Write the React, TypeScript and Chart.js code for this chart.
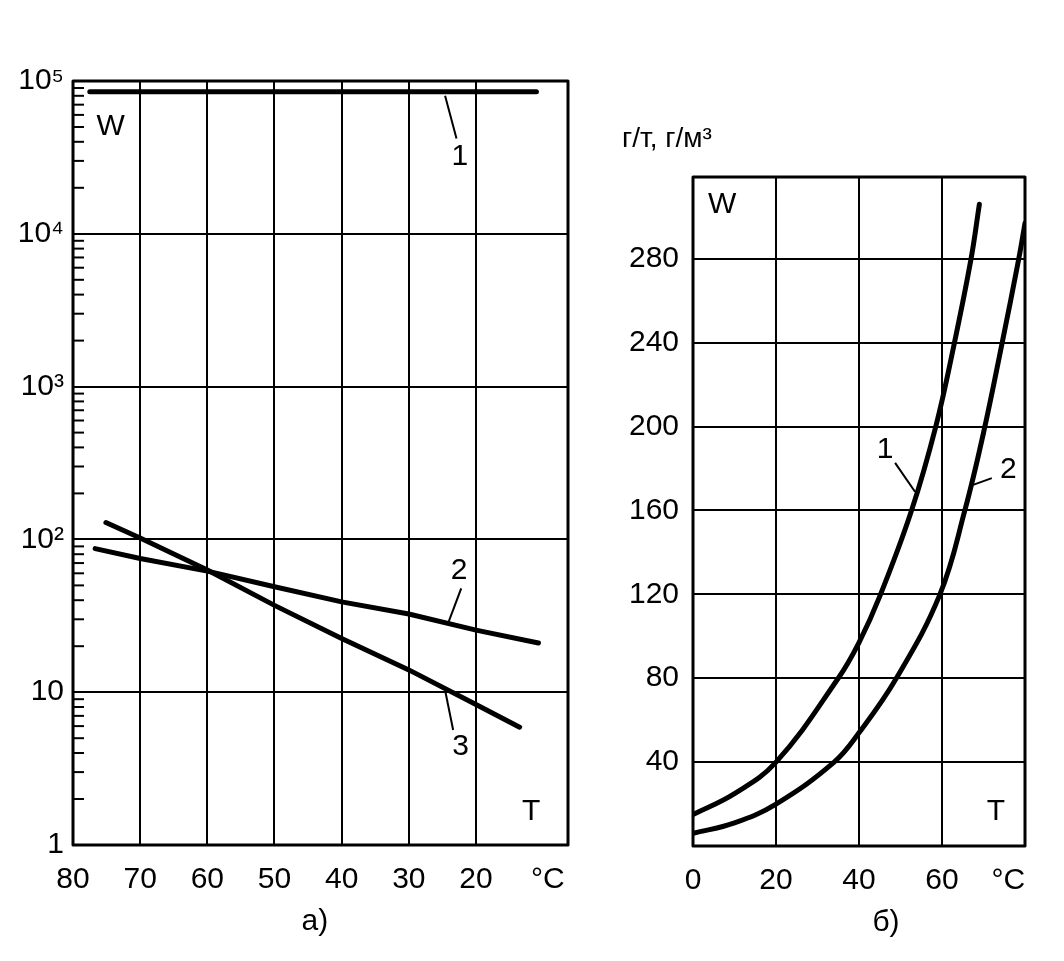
import React, { useEffect, useRef } from 'react';
import { Chart, registerables } from 'chart.js';

Chart.register(...registerables);

const FONT = '"Liberation Sans", Arial, Helvetica, sans-serif';
const INK = '#000000';

// ---------- Panel а) : logarithmic W versus temperature ----------
const aXTicks = [80, 70, 60, 50, 40, 30, 20];
const aUnitTick = 9.3; // position of the "°C" caption on the T axis
const aXMin = 6.3;
const aXMax = 80;
const aYTicks = [1, 10, 100, 1000, 10000, 100000];
const aYLabels = ['1', '10', '10²', '10³', '10⁴', '10⁵'];
const aMinorMultipliers = [2, 3, 4, 5, 6, 7, 8, 9];
const aCurve1T = [77.5, 11];
const aCurve1W = [85000, 85000];
const aCurve2T = [76.7, 70, 60, 50, 40, 30, 20, 10.7];
const aCurve2W = [87, 75, 62, 49, 39, 32.5, 25.5, 21];
const aCurve3T = [75.1, 70, 60, 50, 40, 30, 20, 13.5];
const aCurve3W = [129, 102, 63, 37, 22.5, 14, 8.3, 5.9];

// ---------- Panel б) : W in g/t, g/m³ versus temperature ----------
const bXTicks = [0, 20, 40, 60];
const bUnitTick = 76;
const bXMin = 0;
const bXMax = 80;
const bYTicks = [0, 40, 80, 120, 160, 200, 240, 280];
const bYMax = 319;
const bCurve1T = [0, 10, 20, 35, 40, 45, 52.5, 58.5, 63, 67, 69];
const bCurve1W = [15, 25, 40, 80, 97, 119, 159, 200, 240, 280, 306];
const bCurve2T = [0, 10, 20, 34, 40, 49, 59.5, 65.5, 70, 74.5, 78.5, 80];
const bCurve2W = [6, 11, 20, 40, 54, 80, 120, 160, 197, 240, 280, 297];

type Note =
  | { kind: 'text'; x: number; y: number; text: string; size?: number }
  | { kind: 'line'; x1: number; y1: number; x2: number; y2: number };

// annotations in data coordinates
const aNotes: Note[] = [
  { kind: 'text', x: 74.4, y: 50200, text: 'W' },
  { kind: 'text', x: 11.8, y: 1.66, text: 'T' },
  { kind: 'line', x1: 24.6, y1: 80000, x2: 22.9, y2: 42000 },
  { kind: 'text', x: 22.4, y: 31800, text: '1' },
  { kind: 'line', x1: 22.2, y1: 47.8, x2: 24.2, y2: 27.9 },
  { kind: 'text', x: 22.5, y: 62, text: '2' },
  { kind: 'line', x1: 24.6, y1: 10.3, x2: 23.4, y2: 5.66 },
  { kind: 'text', x: 22.3, y: 4.41, text: '3' },
];
const aCaption = { x: 44, text: 'а)' };

const bNotes: Note[] = [
  { kind: 'text', x: 7, y: 305.8, text: 'W' },
  { kind: 'text', x: 73, y: 16.5, text: 'T' },
  { kind: 'line', x1: 48.7, y1: 182.7, x2: 53.5, y2: 168.9 },
  { kind: 'text', x: 46.3, y: 189, text: '1' },
  { kind: 'line', x1: 72, y1: 175.4, x2: 67.5, y2: 172.2 },
  { kind: 'text', x: 76, y: 179.4, text: '2' },
];
const bCaption = { x: 46.5, text: 'б)' };
const bUnitsTitle = 'г/т, г/м³';

function pts(xs: number[], ys: number[]) {
  return xs.map((x, i) => ({ x, y: ys[i] }));
}

function decorPlugin(
  notes: Note[],
  caption: { x: number; text: string },
  minorDecades: number[] | null,
  unitsTitle: string | null
) {
  return {
    id: 'decor',
    afterDraw(chart: any) {
      const { ctx, chartArea: a, scales } = chart;
      const xs = scales.x;
      const ys = scales.y;
      ctx.save();
      ctx.strokeStyle = INK;
      ctx.fillStyle = INK;
      // frame
      ctx.lineWidth = 3;
      ctx.lineJoin = 'round';
      ctx.strokeRect(a.left, a.top, a.right - a.left, a.bottom - a.top);
      // minor log ticks on the inside of the value axis
      if (minorDecades) {
        ctx.lineWidth = 2;
        minorDecades.forEach((d) => {
          aMinorMultipliers.forEach((m) => {
            const y = ys.getPixelForValue(d * m);
            ctx.beginPath();
            ctx.moveTo(a.left, y);
            ctx.lineTo(a.left + 11, y);
            ctx.stroke();
          });
        });
      }
      // notes
      ctx.textAlign = 'center';
      ctx.textBaseline = 'middle';
      notes.forEach((n) => {
        if (n.kind === 'line') {
          ctx.lineWidth = 2;
          ctx.beginPath();
          ctx.moveTo(xs.getPixelForValue(n.x1), ys.getPixelForValue(n.y1));
          ctx.lineTo(xs.getPixelForValue(n.x2), ys.getPixelForValue(n.y2));
          ctx.stroke();
        } else {
          ctx.font = `${n.size ?? 30}px ${FONT}`;
          ctx.fillText(n.text, xs.getPixelForValue(n.x), ys.getPixelForValue(n.y));
        }
      });
      // panel caption below the axis
      ctx.font = `30px ${FONT}`;
      ctx.fillText(caption.text, xs.getPixelForValue(caption.x), a.bottom + 77);
      // units title above the value axis
      if (unitsTitle) {
        ctx.textAlign = 'left';
        ctx.textBaseline = 'alphabetic';
        ctx.font = `28px ${FONT}`;
        ctx.fillText(unitsTitle, a.left - 71, a.top - 30);
      }
      ctx.restore();
    },
  };
}

const tickFont = { family: FONT, size: 30 };

function makeConfigA(): any {
  const line = (xs: number[], ys: number[]) => ({
    data: pts(xs, ys),
    borderColor: INK,
    borderWidth: 5,
    borderCapStyle: 'round',
    pointRadius: 0,
    tension: 0,
    fill: false,
  });
  return {
    type: 'line',
    data: {
      datasets: [line(aCurve1T, aCurve1W), line(aCurve2T, aCurve2W), line(aCurve3T, aCurve3W)],
    },
    options: {
      animation: false,
      responsive: false,
      maintainAspectRatio: false,
      layout: { padding: { left: 0, right: 32, top: 81, bottom: 0 } },
      plugins: { legend: { display: false }, tooltip: { enabled: false } },
      scales: {
        x: {
          type: 'linear',
          reverse: true,
          min: aXMin,
          max: aXMax,
          afterBuildTicks: (s: any) => {
            s.ticks = [...aXTicks, aUnitTick].map((v) => ({ value: v }));
          },
          afterFit: (s: any) => {
            s.height = 116;
          },
          ticks: {
            autoSkip: false,
            maxRotation: 0,
            color: INK,
            font: tickFont,
            padding: 17,
            callback: (v: number) => (v === aUnitTick ? '°C' : String(v)),
          },
          grid: {
            drawTicks: false,
            lineWidth: 2,
            color: (c: any) => (c.tick && c.tick.value === aUnitTick ? 'rgba(0,0,0,0)' : INK),
          },
          border: { display: false },
        },
        y: {
          type: 'logarithmic',
          min: aYTicks[0],
          max: aYTicks[aYTicks.length - 1],
          afterBuildTicks: (s: any) => {
            s.ticks = aYTicks.map((v) => ({ value: v }));
          },
          afterFit: (s: any) => {
            s.width = 73;
          },
          ticks: {
            autoSkip: false,
            color: INK,
            font: tickFont,
            padding: 9,
            callback: (v: number) => {
              const i = aYTicks.indexOf(v);
              return i >= 0 ? aYLabels[i] : '';
            },
          },
          grid: { drawTicks: false, lineWidth: 2, color: INK },
          border: { display: false },
        },
      },
    },
    plugins: [decorPlugin(aNotes, aCaption, aYTicks.slice(0, -1), null)],
  };
}

function makeConfigB(): any {
  const line = (xs: number[], ys: number[]) => ({
    data: pts(xs, ys),
    borderColor: INK,
    borderWidth: 5,
    borderCapStyle: 'round',
    pointRadius: 0,
    tension: 0.4,
    fill: false,
  });
  return {
    type: 'line',
    data: {
      datasets: [line(bCurve1T, bCurve1W), line(bCurve2T, bCurve2W)],
    },
    options: {
      animation: false,
      responsive: false,
      maintainAspectRatio: false,
      layout: { padding: { left: 0, right: 39, top: 177, bottom: 0 } },
      plugins: { legend: { display: false }, tooltip: { enabled: false } },
      scales: {
        x: {
          type: 'linear',
          min: bXMin,
          max: bXMax,
          afterBuildTicks: (s: any) => {
            s.ticks = [...bXTicks, bUnitTick].map((v) => ({ value: v }));
          },
          afterFit: (s: any) => {
            s.height = 115;
          },
          ticks: {
            autoSkip: false,
            maxRotation: 0,
            color: INK,
            font: tickFont,
            padding: 17,
            callback: (v: number) => (v === bUnitTick ? '°C' : String(v)),
          },
          grid: {
            drawTicks: false,
            lineWidth: 2,
            color: (c: any) => (c.tick && c.tick.value === bUnitTick ? 'rgba(0,0,0,0)' : INK),
          },
          border: { display: false },
        },
        y: {
          type: 'linear',
          min: 0,
          max: bYMax,
          afterBuildTicks: (s: any) => {
            s.ticks = bYTicks.map((v) => ({ value: v }));
          },
          afterFit: (s: any) => {
            s.width = 93;
          },
          ticks: {
            autoSkip: false,
            color: INK,
            font: tickFont,
            padding: 14,
            callback: (v: number) => (v === 0 ? '' : String(v)),
          },
          grid: { drawTicks: false, lineWidth: 2, color: INK },
          border: { display: false },
        },
      },
    },
    plugins: [decorPlugin(bNotes, bCaption, null, bUnitsTitle)],
  };
}

function Panel({ left, width, makeConfig }: { left: number; width: number; makeConfig: () => any }) {
  const ref = useRef<HTMLCanvasElement | null>(null);
  useEffect(() => {
    if (!ref.current) return;
    const chart = new Chart(ref.current, makeConfig());
    return () => chart.destroy();
  }, [makeConfig]);
  return (
    <canvas
      ref={ref}
      width={width}
      height={961}
      style={{ position: 'absolute', left, top: 0, width, height: 961, display: 'block' }}
    />
  );
}

export default function App() {
  return (
    <div
      style={{
        position: 'fixed',
        left: 0,
        top: 0,
        width: 1064,
        height: 961,
        background: '#ffffff',
        overflow: 'hidden',
      }}
    >
      <Panel left={0} width={600} makeConfig={makeConfigA} />
      <Panel left={600} width={464} makeConfig={makeConfigB} />
    </div>
  );
}
